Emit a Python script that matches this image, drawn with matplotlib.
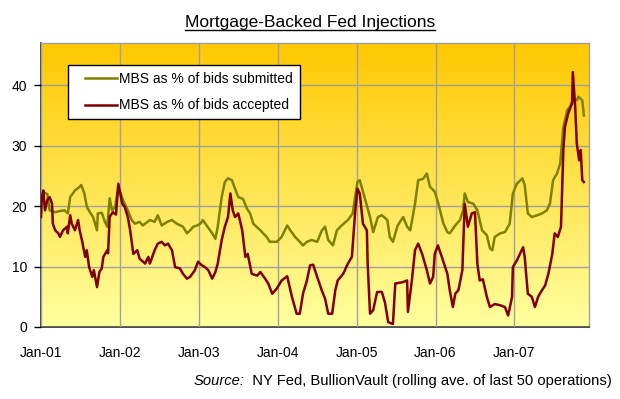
import numpy as np
import matplotlib
matplotlib.use("Agg")
import matplotlib.pyplot as plt
from matplotlib.lines import Line2D
from matplotlib.legend_handler import HandlerLine2D

plt.rcParams['font.family'] = ['Liberation Sans', 'DejaVu Sans']

title = "Mortgage-Backed Fed Injections"
source_italic = "Source:"
source_rest = "  NY Fed, BullionVault (rolling ave. of last 50 operations)"

tick_years = [2001, 2002, 2003, 2004, 2005, 2006, 2007]
tick_labels = ["Jan-01", "Jan-02", "Jan-03", "Jan-04", "Jan-05", "Jan-06", "Jan-07"]
y_ticks = [0, 10, 20, 30, 40]

# MBS as % of bids submitted
sub_t = [2001.00, 2001.03, 2001.08, 2001.11, 2001.18, 2001.24, 2001.30, 2001.34, 2001.37, 2001.43,
         2001.49, 2001.51, 2001.55, 2001.58, 2001.62, 2001.66, 2001.71, 2001.72, 2001.77, 2001.81,
         2001.84, 2001.87, 2001.90, 2001.94, 2001.98, 2002.04, 2002.10, 2002.15, 2002.19, 2002.25,
         2002.29, 2002.38, 2002.44, 2002.48, 2002.53, 2002.60, 2002.66, 2002.72, 2002.80, 2002.85,
         2002.89, 2002.93, 2002.98, 2003.02, 2003.05, 2003.10, 2003.17, 2003.21, 2003.24, 2003.29,
         2003.33, 2003.37, 2003.42, 2003.45, 2003.50, 2003.56, 2003.61, 2003.65, 2003.69, 2003.78,
         2003.86, 2003.90, 2003.99, 2004.05, 2004.12, 2004.16, 2004.22, 2004.28, 2004.32, 2004.37,
         2004.43, 2004.50, 2004.56, 2004.60, 2004.64, 2004.70, 2004.75, 2004.81, 2004.89, 2004.95,
         2005.01, 2005.04, 2005.11, 2005.17, 2005.21, 2005.27, 2005.32, 2005.39, 2005.42, 2005.46,
         2005.52, 2005.59, 2005.64, 2005.68, 2005.74, 2005.78, 2005.84, 2005.89, 2005.93, 2005.99,
         2006.03, 2006.10, 2006.15, 2006.18, 2006.25, 2006.31, 2006.35, 2006.37, 2006.41, 2006.48,
         2006.53, 2006.59, 2006.65, 2006.69, 2006.72, 2006.75, 2006.82, 2006.88, 2006.94, 2006.98,
         2007.03, 2007.10, 2007.13, 2007.17, 2007.22, 2007.29, 2007.35, 2007.41, 2007.45, 2007.49,
         2007.54, 2007.58, 2007.62, 2007.67, 2007.70, 2007.74, 2007.79, 2007.81, 2007.86, 2007.88]
sub_v = [21.3, 22.3, 22.0, 19.3, 19.0, 19.2, 19.3, 18.8, 21.5, 22.6,
         23.2, 23.5, 22.1, 19.9, 19.0, 18.2, 16.0, 18.8, 18.9, 17.4,
         16.6, 21.3, 19.3, 19.9, 23.2, 21.0, 19.3, 17.7, 17.1, 17.4,
         16.8, 17.7, 17.4, 18.5, 16.8, 17.4, 17.7, 17.1, 16.6, 15.5,
         16.0, 16.6, 16.8, 17.1, 17.7, 16.8, 15.5, 14.6, 16.6, 21.5,
         24.0, 24.6, 24.3, 23.2, 21.5, 21.2, 19.6, 18.8, 17.1, 16.0,
         14.9, 14.1, 14.1, 14.9, 16.8, 16.0, 14.9, 14.1, 13.5, 14.1,
         14.4, 14.1, 16.0, 16.6, 14.4, 13.5, 16.0, 16.8, 17.7, 18.8,
         24.0, 24.3, 21.0, 18.2, 15.7, 18.2, 18.5, 17.7, 14.9, 14.1,
         16.8, 18.2, 16.6, 16.0, 20.4, 24.3, 24.5, 25.4, 23.2, 22.4,
         20.7, 17.1, 15.7, 15.5, 16.8, 17.7, 19.3, 22.1, 20.7, 20.4,
         19.3, 16.0, 15.2, 13.0, 12.7, 14.9, 15.5, 15.7, 17.1, 22.1,
         23.7, 24.6, 23.5, 18.8, 18.2, 18.5, 18.8, 19.3, 20.4, 24.3,
         25.4, 27.1, 33.1, 35.9, 36.4, 37.5, 37.5, 38.1, 37.5, 35.0]

# MBS as % of bids accepted
acc_t = [2001.00, 2001.01, 2001.03, 2001.05, 2001.08, 2001.11, 2001.14, 2001.15, 2001.18, 2001.22,
         2001.24, 2001.28, 2001.33, 2001.34, 2001.37, 2001.39, 2001.43, 2001.47, 2001.49, 2001.52,
         2001.56, 2001.58, 2001.61, 2001.65, 2001.67, 2001.71, 2001.74, 2001.77, 2001.79, 2001.84,
         2001.85, 2001.87, 2001.91, 2001.95, 2001.98, 2002.03, 2002.06, 2002.10, 2002.13, 2002.17,
         2002.22, 2002.25, 2002.32, 2002.36, 2002.38, 2002.44, 2002.48, 2002.53, 2002.57, 2002.61,
         2002.66, 2002.70, 2002.76, 2002.80, 2002.85, 2002.89, 2002.95, 2002.99, 2003.04, 2003.08,
         2003.12, 2003.17, 2003.21, 2003.24, 2003.29, 2003.33, 2003.37, 2003.40, 2003.43, 2003.46,
         2003.50, 2003.55, 2003.59, 2003.62, 2003.67, 2003.74, 2003.78, 2003.84, 2003.88, 2003.93,
         2003.99, 2004.05, 2004.12, 2004.18, 2004.24, 2004.28, 2004.32, 2004.37, 2004.41, 2004.45,
         2004.50, 2004.56, 2004.60, 2004.64, 2004.69, 2004.73, 2004.76, 2004.83, 2004.89, 2004.94,
         2004.98, 2005.01, 2005.04, 2005.08, 2005.13, 2005.14, 2005.17, 2005.21, 2005.26, 2005.32,
         2005.36, 2005.40, 2005.46, 2005.49, 2005.58, 2005.64, 2005.65, 2005.70, 2005.74, 2005.78,
         2005.83, 2005.89, 2005.93, 2005.97, 2005.99, 2006.03, 2006.08, 2006.15, 2006.18, 2006.22,
         2006.25, 2006.29, 2006.34, 2006.37, 2006.41, 2006.46, 2006.50, 2006.53, 2006.56, 2006.60,
         2006.65, 2006.69, 2006.75, 2006.82, 2006.88, 2006.92, 2006.97, 2006.98, 2007.03, 2007.07,
         2007.11, 2007.13, 2007.17, 2007.22, 2007.26, 2007.30, 2007.35, 2007.39, 2007.43, 2007.48,
         2007.51, 2007.55, 2007.59, 2007.62, 2007.64, 2007.68, 2007.73, 2007.74, 2007.77, 2007.79,
         2007.82, 2007.84, 2007.86, 2007.88]
acc_v = [18.2, 21.3, 22.6, 19.3, 21.0, 21.5, 20.4, 17.1, 16.0, 15.5,
         14.9, 16.0, 16.6, 15.5, 18.5, 17.1, 16.0, 17.7, 16.0, 14.3,
         11.6, 12.7, 9.9, 8.3, 9.4, 6.6, 9.1, 9.7, 11.6, 12.7,
         12.2, 18.2, 19.0, 18.6, 23.7, 20.4, 19.9, 18.2, 16.0, 12.1,
         12.7, 11.3, 10.5, 11.6, 10.5, 12.7, 13.8, 14.1, 13.5, 13.8,
         12.7, 9.9, 9.7, 8.8, 8.0, 8.3, 9.4, 10.8, 10.2, 9.9,
         9.4, 8.0, 9.1, 10.5, 14.4, 16.6, 18.2, 22.1, 19.3, 18.2,
         18.8, 16.0, 11.6, 12.1, 8.8, 8.5, 9.1, 8.0, 7.2, 5.5,
         6.4, 7.7, 8.4, 5.0, 2.2, 2.2, 5.5, 7.7, 10.2, 10.3,
         8.3, 6.0, 4.7, 2.2, 2.2, 6.1, 7.7, 8.8, 10.5, 11.6,
         18.8, 22.9, 22.1, 17.1, 16.0, 10.5, 2.2, 2.8, 5.8, 5.8,
         4.0, 0.8, 0.5, 7.2, 7.4, 7.7, 2.5, 7.7, 12.7, 13.8,
         12.1, 9.4, 7.2, 8.3, 12.1, 13.5, 11.6, 8.8, 6.1, 3.3,
         5.5, 6.1, 9.4, 20.4, 16.6, 18.8, 19.0, 10.5, 7.7, 7.9,
         5.0, 3.3, 3.8, 3.6, 3.3, 1.9, 5.0, 9.9, 11.0, 12.1,
         13.2, 11.6, 5.5, 5.0, 3.3, 5.0, 6.1, 6.9, 8.8, 12.1,
         15.5, 14.9, 16.6, 29.3, 33.1, 35.3, 37.0, 42.2, 36.4, 30.4,
         27.6, 29.3, 24.3, 24.0]

x_min, x_max = 2001.0, 2007.945
y_min, y_max = 0, 47

fig = plt.figure(figsize=(6.2, 3.99), dpi=100)
fig.patch.set_facecolor('white')
ax = fig.add_axes([41/620, 1 - 327/399, 548/620, 284/399])

# gradient background
n = 256
frac = np.linspace(0, 1, n)[:, None]  # 0 bottom -> 1 top
top = np.array([255, 200, 0]) / 255.0
bot = np.array([255, 255, 160]) / 255.0
grad = bot[None, None, :] * (1 - frac[..., None]) + top[None, None, :] * frac[..., None]
grad = np.repeat(grad, 2, axis=1)
ax.imshow(grad, origin='lower', aspect='auto', extent=[x_min, x_max, y_min, y_max],
          zorder=0, interpolation='bilinear')

ax.set_xlim(x_min, x_max)
ax.set_ylim(y_min, y_max)

ax.set_xticks(tick_years)
ax.set_xticklabels(tick_labels, fontsize=10)
ax.set_yticks(y_ticks)
ax.set_yticklabels([str(v) for v in y_ticks], fontsize=10)
ax.tick_params(axis='x', length=0, pad=14, colors='#000000')
ax.tick_params(axis='y', length=5, width=1, pad=5, colors='#000000', direction='out')
ax.grid(True, color='#A0A0A0', linewidth=1.0, zorder=1)
ax.set_axisbelow(False)

for s in ['top', 'right']:
    ax.spines[s].set_color('#A0A0A0')
    ax.spines[s].set_linewidth(1.0)
for s in ['left', 'bottom']:
    ax.spines[s].set_color('#303030')
    ax.spines[s].set_linewidth(1.2)

l1, = ax.plot(sub_t, sub_v, color='#808000', linewidth=1.8, zorder=3,
              label='MBS as % of bids submitted')
l2, = ax.plot(acc_t, acc_v, color='#800000', linewidth=1.8, zorder=4,
              label='MBS as % of bids accepted')

hmap = {l1: HandlerLine2D(xpad=0.75), l2: HandlerLine2D(xpad=0.75)}
leg = ax.legend(handles=[l1, l2], loc='upper left', bbox_to_anchor=(0.049, 0.9225),
                borderaxespad=0, fontsize=10, frameon=True, fancybox=False,
                framealpha=1, edgecolor='#000000', facecolor='white',
                handlelength=3.05, handletextpad=0.15, labelspacing=0.9,
                borderpad=0.5, handler_map=hmap)
leg.get_frame().set_linewidth(1.0)
leg.set_zorder(5)

t = fig.text(0.5, 1 - 22/399, title, ha='center', va='center', fontsize=12.5)

fig.canvas.draw()
renderer = fig.canvas.get_renderer()
bb = t.get_window_extent(renderer=renderer)
inv = fig.transFigure.inverted()
(x0, y0), (x1, y1) = inv.transform([[bb.x0, bb.y0], [bb.x1, bb.y1]])
fig.add_artist(Line2D([x0, x1], [y0 - 0.002, y0 - 0.002], transform=fig.transFigure,
                      color='black', linewidth=1.0))

# source line
s2 = fig.text(612/620, 1 - 381/399, source_rest, ha='right', va='center', fontsize=10.6)
fig.canvas.draw()
bb2 = s2.get_window_extent(renderer=renderer)
xs = inv.transform([[bb2.x0, bb2.y0]])[0][0]
fig.text(xs, 1 - 381/399, source_italic, ha='right', va='center', fontsize=10.6, style='italic')

fig.savefig('out.png', dpi=100)
